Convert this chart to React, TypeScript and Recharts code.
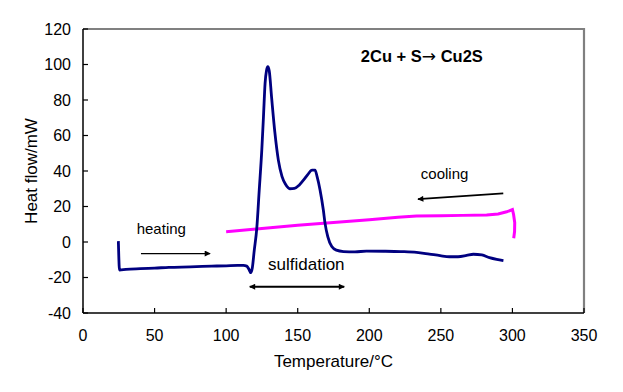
import React from 'react';
import { LineChart, Line, XAxis, YAxis, ReferenceDot, Label } from 'recharts';

// Heating DSC curve (temperature °C, heat flow mW)
const heatingTemp = [24.7, 25.0, 25.5, 30, 40, 50, 60, 75, 90, 100, 108, 112, 114.4, 116, 117.2, 118.3, 119.6, 121.4, 123.1, 124.9, 126.1, 127.2, 128.2, 129.1, 130.1, 131.8, 134, 136.5, 139, 141.5, 144.5, 147.7, 151, 154, 157, 160, 162.1, 163.5, 165.6, 167.9, 169.1, 171, 173.8, 177, 182, 190, 198, 210, 222, 233, 242, 249.5, 256, 262, 268, 272.7, 278.6, 284, 289, 293.7];
const heatingFlow = [0.5, -8, -15.8, -15.4, -15, -14.7, -14.3, -14, -13.6, -13.4, -13.2, -13.2, -13.6, -15.5, -17.3, -14.5, -5, 7.7, 29, 51.8, 71, 89.4, 96.6, 98.8, 96.5, 81, 62, 46, 37, 32.5, 30, 30.2, 32, 34.8, 38, 40.5, 40.5, 37, 29.3, 18, 10.5, 3, -2.6, -4.6, -5.4, -5.6, -5.1, -5.2, -5.4, -5.8, -6.8, -7.7, -8.3, -8.3, -7.6, -6.9, -7.3, -8.8, -9.8, -10.5];

// Cooling curve
const coolingTemp = [100, 125, 150, 175, 200, 220, 233, 250, 265, 282, 290, 296, 300, 300.8, 301.6, 301.5, 300.9];
const coolingFlow = [5.8, 7.6, 9.4, 11, 12.6, 14, 14.6, 14.8, 15, 15.2, 15.8, 17, 18.3, 15.5, 11, 6, 2.1];

// Annotation arrows (data coordinates)
const heatingArrowX = [40.5, 88.8];
const heatingArrowY = [-6.5, -6.5];
const sulfidationArrowX = [116.5, 182.5];
const sulfidationArrowY = [-25.2, -25.2];
const coolingArrowX = [293.6, 234];
const coolingArrowY = [27.4, 24.1];

// Axis ticks and extent
const xTicks = [0, 50, 100, 150, 200, 250, 300, 350];
const yTicks = [-40, -20, 0, 20, 40, 60, 80, 100, 120];
const xMin = 0;
const xMax = 350;
const yMin = -40;
const yMax = 120;

// Plot frame (top and right edges)
const frameX = [xMin, xMax, xMax];
const frameY = [yMax, yMax, yMin];

// Text annotations (data coordinates of text anchor / baseline)
const noteTexts = ['cooling', 'heating', 'sulfidation'];
const noteX = [252.6, 54.7, 156];
const noteY = [35.3, 4.5, -15.8];
const titleLeft = '2Cu + S';
const titleArrow = '\u2192';
const titleRight = ' Cu2S';
const titleX = 236.7;
const titleY = 101.6;

const zip = (xs: number[], ys: number[]) => xs.map((x, i) => ({ x, y: ys[i] }));

const heatingData = zip(heatingTemp, heatingFlow);
const coolingData = zip(coolingTemp, coolingFlow);
const heatingArrow = zip(heatingArrowX, heatingArrowY);
const sulfidationArrow = zip(sulfidationArrowX, sulfidationArrowY);
const coolingArrow = zip(coolingArrowX, coolingArrowY);
const frameData = zip(frameX, frameY);

const FONT = '"Liberation Sans", Arial, Helvetica, sans-serif';
const noteSizes = [15, 15, 17];

const X_TICK_MARGIN = 17;
const Y_TICK_MARGIN = 12;
const TICK_LEN = 5;

const XTick = (props: any) => {
  const { x, y, payload } = props;
  const axisY = y - X_TICK_MARGIN;
  return (
    <g>
      <path d={`M${x},${axisY}V${axisY - TICK_LEN}`} stroke="#000000" strokeWidth={1.2} fill="none" />
      <text x={x} y={y} dy="0.71em" textAnchor="middle" fontSize={16} fontFamily={FONT} fill="#000">
        {payload.value}
      </text>
    </g>
  );
};

const YTick = (props: any) => {
  const { x, y, payload } = props;
  const axisX = x + Y_TICK_MARGIN;
  return (
    <g>
      <path d={`M${axisX},${y}H${axisX + TICK_LEN}`} stroke="#000000" strokeWidth={1.2} fill="none" />
      <text x={x} y={y} dy="0.355em" textAnchor="end" fontSize={16} fontFamily={FONT} fill="#000">
        {payload.value}
      </text>
    </g>
  );
};

export default function App() {
  return (
    <div style={{ position: 'absolute', left: 0, top: 0, background: '#fff' }}>
      <LineChart
        width={623}
        height={392}
        margin={{ top: 29, right: 39, bottom: 0, left: 0 }}
        style={{ fontFamily: FONT }}
      >
        <defs>
          <marker id="arrHead" viewBox="0 0 10 10" refX="9" refY="5" markerWidth="8" markerHeight="6" markerUnits="userSpaceOnUse" orient="auto-start-reverse">
            <path d="M0,0 L10,5 L0,10 z" fill="#000" />
          </marker>
        </defs>
        <XAxis
          xAxisId="main"
          type="number"
          dataKey="x"
          domain={[xMin, xMax]}
          ticks={xTicks}
          interval={0}
          height={79}
          axisLine={{ stroke: '#000', strokeWidth: 1.5 }}
          tickLine={false}
          tickSize={0}
          tickMargin={X_TICK_MARGIN}
          tick={XTick}
        >
          <Label
            content={({ viewBox }: any) => (
              <text x={viewBox.x + viewBox.width / 2} y={viewBox.y + 54} textAnchor="middle" fontSize={17} fontFamily={FONT} fill="#000">
                Temperature/°C
              </text>
            )}
          />
        </XAxis>
        <YAxis
          yAxisId="main"
          type="number"
          dataKey="y"
          domain={[yMin, yMax]}
          ticks={yTicks}
          interval={0}
          width={83}
          axisLine={{ stroke: '#000', strokeWidth: 1.5 }}
          tickLine={false}
          tickSize={0}
          tickMargin={Y_TICK_MARGIN}
          tick={YTick}
        >
          <Label
            content={({ viewBox }: any) => {
              const cx = viewBox.x + 36.5;
              const cy = viewBox.y + viewBox.height / 2;
              return (
                <text x={cx} y={cy} transform={`rotate(-90 ${cx} ${cy})`} textAnchor="middle" fontSize={17} fontFamily={FONT} fill="#000">
                  Heat flow/mW
                </text>
              );
            }}
          />
        </YAxis>
        <Line
          xAxisId="main"
          yAxisId="main"
          data={frameData}
          dataKey="y"
          type="linear"
          stroke="#808080"
          strokeWidth={2.2}
          dot={false}
          activeDot={false}
          isAnimationActive={false}
        />
        <Line
          xAxisId="main"
          yAxisId="main"
          data={coolingData}
          dataKey="y"
          type="linear"
          stroke="#ff00ff"
          strokeWidth={3}
          dot={false}
          activeDot={false}
          isAnimationActive={false}
        />
        <Line
          xAxisId="main"
          yAxisId="main"
          data={heatingData}
          dataKey="y"
          type="monotone"
          stroke="#000080"
          strokeWidth={2.8}
          dot={false}
          activeDot={false}
          isAnimationActive={false}
        />
        <Line
          xAxisId="main"
          yAxisId="main"
          data={heatingArrow}
          dataKey="y"
          type="linear"
          stroke="#000"
          strokeWidth={1.2}
          dot={false}
          activeDot={false}
          markerEnd="url(#arrHead)"
          isAnimationActive={false}
        />
        <Line
          xAxisId="main"
          yAxisId="main"
          data={sulfidationArrow}
          dataKey="y"
          type="linear"
          stroke="#000"
          strokeWidth={2}
          dot={false}
          activeDot={false}
          markerStart="url(#arrHead)"
          markerEnd="url(#arrHead)"
          isAnimationActive={false}
        />
        <Line
          xAxisId="main"
          yAxisId="main"
          data={coolingArrow}
          dataKey="y"
          type="linear"
          stroke="#000"
          strokeWidth={1.8}
          dot={false}
          activeDot={false}
          markerEnd="url(#arrHead)"
          isAnimationActive={false}
        />
        <ReferenceDot
          xAxisId="main"
          yAxisId="main"
          x={titleX}
          y={titleY}
          r={0}
          fill="none"
          stroke="none"
          label={({ viewBox }: any) => (
            <text
              x={viewBox.x + (viewBox.width || 0) / 2}
              y={viewBox.y + (viewBox.height || 0) / 2}
              textAnchor="middle"
              fontFamily={FONT}
              fill="#000"
              fontSize={16.5}
              fontWeight="bold"
            >
              {titleLeft}
              <tspan fontFamily='"DejaVu Sans", sans-serif' fontWeight="normal" fontSize={17}>{titleArrow}</tspan>
              {titleRight}
            </text>
          )}
        />
        {noteTexts.map((t, i) => (
          <ReferenceDot
            key={t}
            xAxisId="main"
            yAxisId="main"
            x={noteX[i]}
            y={noteY[i]}
            r={0}
            fill="none"
            stroke="none"
            label={({ viewBox }: any) => (
              <text
                x={viewBox.x + (viewBox.width || 0) / 2}
                y={viewBox.y + (viewBox.height || 0) / 2}
                textAnchor="middle"
                fontFamily={FONT}
                fill="#000"
                fontSize={noteSizes[i]}
              >
                {t}
              </text>
            )}
          />
        ))}
      </LineChart>
    </div>
  );
}
